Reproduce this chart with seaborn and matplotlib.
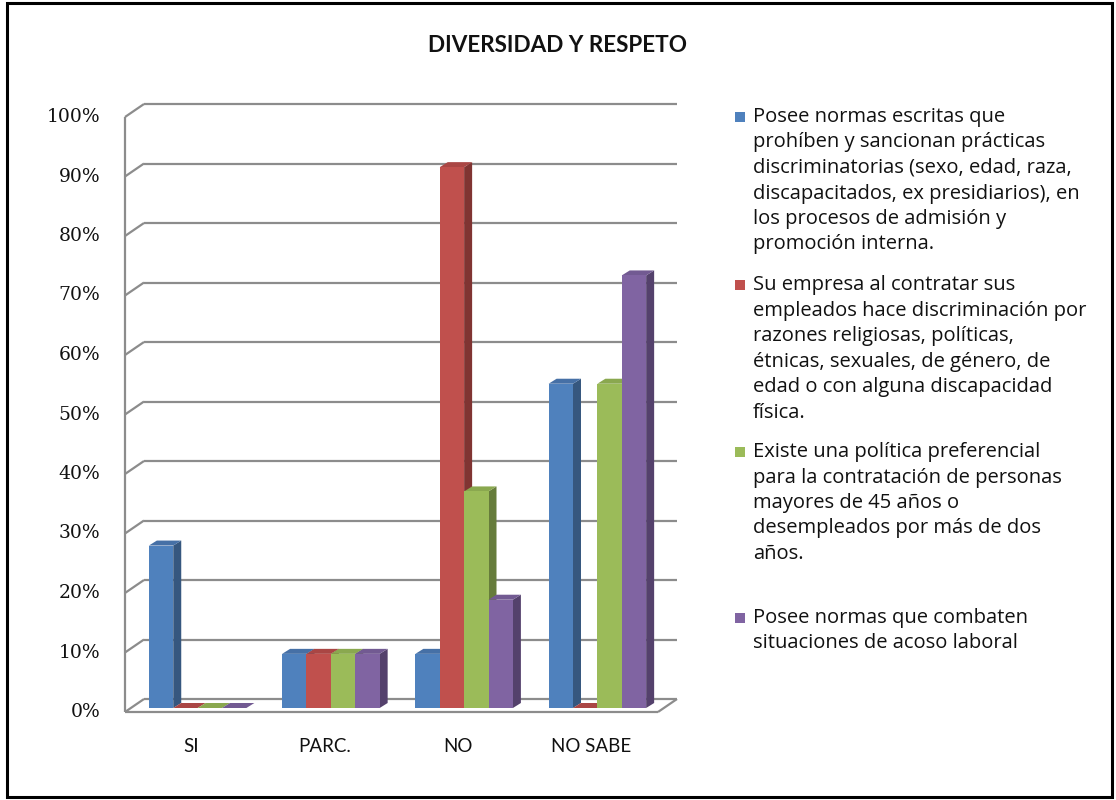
import matplotlib
matplotlib.use("Agg")
import matplotlib.pyplot as plt
from matplotlib.transforms import IdentityTransform
from matplotlib.patches import Polygon, Rectangle
from matplotlib.lines import Line2D
import seaborn as sns
import pandas as pd

# ---- data -------------------------------------------------------------
categories = ["SI", "PARC.", "NO", "NO SABE"]

series_names = [
    "Posee normas escritas que\nprohíben y sancionan prácticas\ndiscriminatorias (sexo, edad, raza,\ndiscapacitados, ex presidiarios), en\nlos procesos de admisión y\npromoción interna.",
    "Su empresa al contratar sus\nempleados hace discriminación por\nrazones religiosas, políticas,\nétnicas, sexuales, de género, de\nedad o con alguna discapacidad\nfísica.",
    "Existe una política preferencial\npara la contratación de personas\nmayores de 45 años o\ndesempleados por más de dos\naños.",
    "Posee normas que combaten\nsituaciones de acoso laboral",
]

normas_escritas = [27.3, 9.1, 9.1, 54.5]
discriminacion = [0.0, 9.1, 90.9, 0.0]
politica_preferencial = [0.0, 9.1, 36.4, 54.5]
acoso_laboral = [0.0, 9.1, 18.2, 72.7]

y_ticks = [0, 10, 20, 30, 40, 50, 60, 70, 80, 90, 100]

colors = ["#4F81BD", "#C0504D", "#9BBB59", "#8064A2"]
side_colors = ["#36577F", "#803432", "#667C3B", "#54416C"]
top_colors = ["#4670A6", "#AA4644", "#8AA84F", "#725A92"]

series_values = [normas_escritas, discriminacion, politica_preferencial, acoso_laboral]
df = pd.DataFrame(
    [(c, s, v) for s, vals in zip(series_names, series_values) for c, v in zip(categories, vals)],
    columns=["categoria", "serie", "valor"],
)

# ---- figure -------------------------------------------------------------
W, H = 1116, 800
fig = plt.figure(figsize=(W / 100, H / 100), dpi=100)
fig.patch.set_facecolor("white")

# axes = plane of the bar fronts
ax = fig.add_axes([131 / W, 92 / H, 533 / W, 595 / H])
sns.barplot(data=df, x="categoria", y="valor", hue="serie", palette=colors,
            hue_order=series_names, order=categories, width=0.732,
            saturation=1, legend=False, ax=ax, edgecolor="none", linewidth=0)
ax.set_xlim(-0.5, 3.5)
ax.set_ylim(0, 100)
ax.axis("off")

fig.canvas.draw()

# offsets of the other planes relative to the bar plane (pixels, y downward)
BACK = (13, -9)
FRONT = (-6, 4)
DEPTH = (8, -5)


def px(x, y, d=(0, 0)):
    X, Y = ax.transData.transform((x, y))
    return (X + d[0], Y - d[1])


grid_kw = dict(color="#8C8C8C", lw=1.6, transform=IdentityTransform(), zorder=1,
               solid_capstyle="butt")


def seg(p, q, **kw):
    fig.add_artist(Line2D([p[0], q[0]], [p[1], q[1]], **{**grid_kw, **kw}))


x0, x1 = ax.get_xlim()
for v in y_ticks:
    seg(px(x0, v, BACK), px(x1, v, BACK))          # back wall gridline
    seg(px(x0, v, FRONT), px(x0, v, BACK))         # left wall diagonal
seg(px(x0, 0, FRONT), px(x0, 100, FRONT))          # left axis
seg(px(x0, 0, FRONT), px(x1, 0, FRONT))            # floor front edge
seg(px(x1, 0, FRONT), px(x1, 0, BACK))             # floor right edge

# ---- 3D faces of bars -------------------------------------------------------
bars = sorted([p for p in ax.patches if isinstance(p, Rectangle)], key=lambda r: r.get_x())
color_index = {matplotlib.colors.to_hex(c).lower(): i for i, c in enumerate(colors)}
for i, r in enumerate(bars):
    bx, bw, bh = r.get_x(), r.get_width(), r.get_height()
    ci = color_index.get(matplotlib.colors.to_hex(r.get_facecolor()).lower(), 0)
    base = 10 + 3 * i
    top = [px(bx, bh), px(bx + bw, bh), px(bx + bw, bh, DEPTH), px(bx, bh, DEPTH)]
    side = [px(bx + bw, 0), px(bx + bw, bh), px(bx + bw, bh, DEPTH), px(bx + bw, 0, DEPTH)]
    fig.add_artist(Polygon(side, closed=True, facecolor=side_colors[ci], edgecolor="none",
                           transform=IdentityTransform(), zorder=base))
    fig.add_artist(Polygon(top, closed=True, facecolor=top_colors[ci], edgecolor="none",
                           transform=IdentityTransform(), zorder=base))
    # the front face goes on the figure so that stacking with faces is consistent
    front = [px(bx, 0), px(bx + bw, 0), px(bx + bw, bh), px(bx, bh)]
    fig.add_artist(Polygon(front, closed=True, facecolor=colors[ci], edgecolor="none",
                           transform=IdentityTransform(), zorder=base + 1))
    r.set_visible(False)

# ---- tick labels --------------------------------------------------------------
for v in y_ticks:
    X, Y = px(x0, v, FRONT)
    fig.text(100 / W, Y / H, f"{v}%", ha="right", va="center",
             fontsize=13.5, family="DejaVu Serif", color="#111111")
for k, c in enumerate(categories):
    X, Y = px(k, 0, FRONT)
    fig.text(X / W, (H - 746) / H, c, ha="center", va="center",
             fontsize=13.5, family="Lato", color="#111111")

# ---- title ----------------------------------------------------------------------
fig.text(558 / W, 1 - 45 / H, "DIVERSIDAD Y RESPETO", ha="center", va="center",
         fontsize=16.2, weight="bold", family="Lato", color="#111111")

# ---- legend -------------------------------------------------------------------
legend_y = [117, 285, 452, 618]
line_step = 25.5
for name, col, y in zip(series_names, colors, legend_y):
    fig.add_artist(Rectangle((735 / W, 1 - (y + 5) / H), 10 / W, 10 / H,
                             transform=fig.transFigure, facecolor=col, edgecolor="none"))
    for k, line in enumerate(name.split("\n")):
        fig.text(753 / W, 1 - (y + k * line_step) / H, line, ha="left", va="center",
                 fontsize=14.5, family="Open Sans", color="#111111")

# ---- outer frame ----------------------------------------------------------------
fig.add_artist(Rectangle((7 / W, 3 / H), 1105 / W, 794 / H, transform=fig.transFigure,
                         fill=False, edgecolor="black", lw=2.2))

fig.savefig("out.png", dpi=100, facecolor="white")
